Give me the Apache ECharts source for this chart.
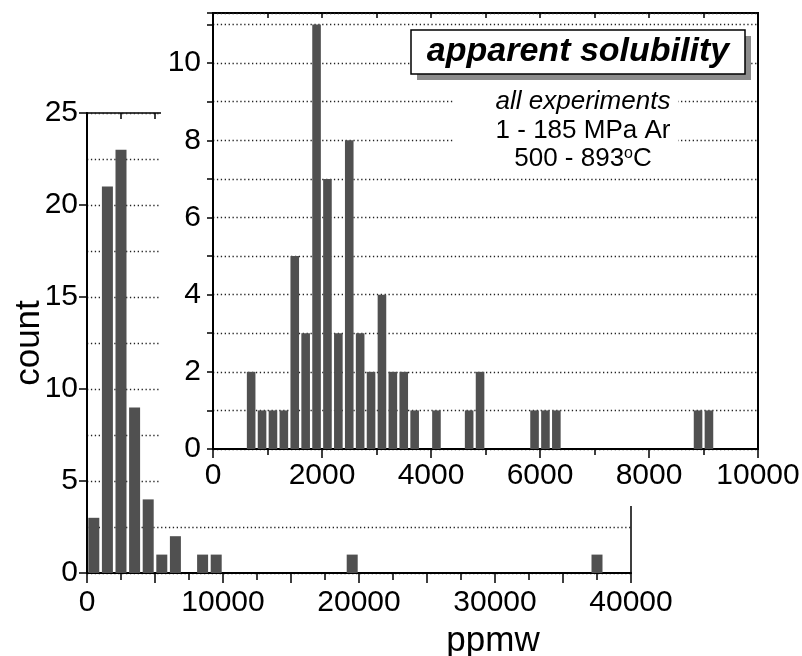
<!DOCTYPE html>
<html>
<head>
<meta charset="utf-8">
<script src="https://cdn.jsdelivr.net/npm/echarts@6/dist/echarts.min.js"></script>
<style>
html,body{margin:0;padding:0;background:#fff;}
#chart{width:802px;height:656px;}
</style>
</head>
<body>
<div id="chart"></div>
<script>
// ---- data ----
const mainBinWidth = 1000;
const mainBinStart = [0, 1000, 2000, 3000, 4000, 5000, 6000, 8000, 9000, 19000, 37000];
const mainCounts   = [3, 21, 23, 9, 4, 1, 2, 1, 1, 1, 1];

const insetBinWidth = 200;
const insetBinStart = [600, 800, 1000, 1200, 1400, 1600, 1800, 2000, 2200, 2400, 2600, 2800,
                       3000, 3200, 3400, 3600, 4000, 4600, 4800, 5800, 6000, 6200, 8800, 9000];
const insetCounts   = [2, 1, 1, 1, 5, 3, 11, 7, 3, 8, 3, 2,
                       4, 2, 2, 1, 1, 1, 2, 1, 1, 1, 1, 1];

const mainXLabels  = [0, 10000, 20000, 30000, 40000];
const mainYLabels  = [0, 5, 10, 15, 20, 25];
const insetXLabels = [0, 2000, 4000, 6000, 8000, 10000];
const insetYLabels = [0, 2, 4, 6, 8, 10];

const titleText = 'apparent solubility';
const noteLines = ['all experiments', '1 - 185 MPa Ar', '500 - 893{s|o}C'];

// ---- chart ----
const FONT = '"Liberation Sans", Arial, Helvetica, sans-serif';
const BAR = '#505050';
const dotted = { color: '#222', width: 1.3, type: [1.3, 2.6] };
const axisBlack = { color: '#000', width: 2 };
const lab = (list) => (v) => (list.indexOf(+v) >= 0 ? String(v) : '');
const TICKFS = 30;

const chart = echarts.init(document.getElementById('chart'), null, { renderer: 'canvas' });

const option = {
  backgroundColor: '#fff',
  animation: false,
  grid: [
    { left: 87, top: 113, width: 544, height: 460, show: true, borderColor: '#000', borderWidth: 1.5, z: 0,
      containLabel: false, outerBoundsMode: 'none' },
    { left: 213, top: 13, width: 545, height: 436, show: true, borderColor: '#000', borderWidth: 2, z: 5,
      containLabel: false, outerBoundsMode: 'none' }
  ],
  xAxis: [
    {
      gridIndex: 0, type: 'value', min: 0, max: 40000, interval: 5000,
      axisLine: { lineStyle: axisBlack },
      axisTick: { length: 10, lineStyle: { color: '#000', width: 1.5 } },
      minorTick: { show: true, splitNumber: 2, length: 7, lineStyle: { color: '#000', width: 1.5 } },
      axisLabel: { formatter: lab(mainXLabels), fontSize: TICKFS, color: '#000', fontFamily: FONT, margin: 15 },
      splitLine: { show: false },
      name: 'ppmw', nameLocation: 'middle', nameGap: 51, nameMoveOverlap: false,
      nameTextStyle: { fontSize: 35, color: '#000', fontFamily: FONT, padding: [0, 0, 0, 268] }
    },
    {
      gridIndex: 0, type: 'value', position: 'top', min: 0, max: 40000, interval: 2500,
      axisLine: { show: false },
      axisTick: { inside: true, length: 6, lineStyle: { color: '#000', width: 1.5 } },
      axisLabel: { show: false }, splitLine: { show: false }
    },
    {
      gridIndex: 1, type: 'value', min: 0, max: 10000, interval: 2000, z: 5,
      axisLine: { lineStyle: axisBlack },
      axisTick: { length: 9, lineStyle: { color: '#000', width: 1.5 } },
      minorTick: { show: true, splitNumber: 2, length: 6, lineStyle: { color: '#000', width: 1.5 } },
      axisLabel: { formatter: lab(insetXLabels), fontSize: TICKFS, color: '#000', fontFamily: FONT, margin: 12 },
      splitLine: { show: false }
    },
    {
      gridIndex: 1, type: 'value', position: 'top', min: 0, max: 10000, interval: 1000, z: 5,
      axisLine: { show: false },
      axisTick: { inside: true, length: 5, lineStyle: { color: '#000', width: 1.5 } },
      axisLabel: { show: false }, splitLine: { show: false }
    }
  ],
  yAxis: [
    {
      gridIndex: 0, type: 'value', min: 0, max: 25, interval: 5,
      axisLine: { show: true, lineStyle: axisBlack },
      axisTick: { show: true, length: 8, lineStyle: { color: '#000', width: 1.5 } },
      minorTick: { show: false, splitNumber: 2 },
      axisLabel: { formatter: lab(mainYLabels), fontSize: TICKFS, color: '#000', fontFamily: FONT, margin: 9 },
      splitLine: { show: true, lineStyle: dotted },
      minorSplitLine: { show: true, lineStyle: dotted },
      name: 'count', nameLocation: 'middle', nameGap: 40, nameMoveOverlap: false,
      nameTextStyle: { fontSize: 35, color: '#000', fontFamily: FONT }
    },
    {
      gridIndex: 1, type: 'value', min: 0, max: 11.3, interval: 1, z: 5,
      axisLine: { show: true, lineStyle: axisBlack },
      axisTick: { show: true, length: 6, lineStyle: { color: '#000', width: 1.5 } },
      axisLabel: { formatter: lab(insetYLabels), fontSize: TICKFS, color: '#000', fontFamily: FONT, margin: 12 },
      splitLine: { show: true, lineStyle: dotted }
    }
  ],
  series: [
    {
      type: 'bar', xAxisIndex: 0, yAxisIndex: 0, barWidth: 11, z: 2,
      itemStyle: { color: BAR },
      data: mainBinStart.map((s, i) => [s + mainBinWidth / 2, mainCounts[i]])
    },
    {
      type: 'bar', xAxisIndex: 2, yAxisIndex: 1, barWidth: 8.6, z: 6,
      itemStyle: { color: BAR },
      data: insetBinStart.map((s, i) => [s + insetBinWidth / 2, insetCounts[i]])
    }
  ],
  graphic: [
    { type: 'rect', z: 3, silent: true, shape: { x: 161, y: 0, width: 641, height: 506 }, style: { fill: '#fff' } },
    { type: 'rect', z: 10, shape: { x: 417, y: 36, width: 334, height: 44 }, style: { fill: '#8c8c8c' } },
    { type: 'rect', z: 11, shape: { x: 411, y: 30, width: 334, height: 44 }, style: { fill: '#fff', stroke: '#000', lineWidth: 1.5 } },
    { type: 'text', z: 12, x: 578, y: 52, style: { text: titleText, font: 'italic bold 34px ' + FONT, fill: '#000', align: 'center', verticalAlign: 'middle' } },
    { type: 'rect', z: 10, shape: { x: 454, y: 88, width: 224, height: 86 }, style: { fill: '#fff' } },
    { type: 'text', z: 12, x: 583, y: 102, style: { text: noteLines[0], font: 'italic 26px ' + FONT, fill: '#000', align: 'center', verticalAlign: 'middle' } },
    { type: 'text', z: 12, x: 583, y: 131, style: { text: noteLines[1], font: '26px ' + FONT, fill: '#000', align: 'center', verticalAlign: 'middle' } },
    { type: 'text', z: 12, x: 583, y: 159, style: { text: noteLines[2], font: '26px ' + FONT, fill: '#000', align: 'center', verticalAlign: 'middle',
        rich: { s: { fontSize: 16, fontFamily: FONT, verticalAlign: 'top', padding: [0, 0, 10, 0] } } } }
  ]
};
chart.setOption(option);
</script>
</body>
</html>
